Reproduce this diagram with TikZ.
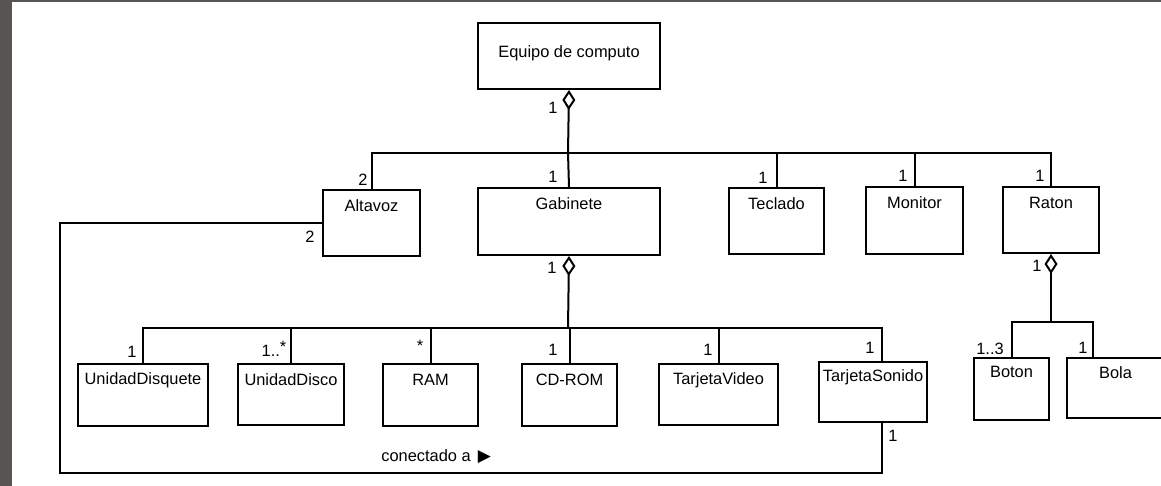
\documentclass[tikz,border=0pt]{standalone}
\usepackage{fontspec}
\setmainfont{Liberation Sans}
\newfontfamily\symfont{DejaVu Sans}
\usetikzlibrary{arrows.meta,calc}
\definecolor{bggray}{HTML}{585453}
\begin{document}
\begin{tikzpicture}[x=0.5pt,y=-0.5pt,
  font=\fontsize{8.2}{9.5}\selectfont,
  cls/.style 2 args={draw, line width=1pt, inner sep=0pt, anchor=north west,
    minimum width=#1*0.5pt, minimum height=#2*0.5pt},
  txt/.style={inner sep=0pt},
  mult/.style={inner sep=0pt},
  ln/.style={line width=1pt},
  agg/.style={{Diamond[open,length=10pt,width=6.5pt]}-}]
\useasboundingbox (0,0) rectangle (1161,486);
\fill[bggray] (0,0) rectangle (1161,486);
\fill[white] (12,2) rectangle (1161,486);

% boxes
\node[cls={182}{66}] (eq)   at (477,22)  {};
\node[cls={97}{66}]  (alt)  at (322,189) {};
\node[cls={182}{67}] (gab)  at (477,187) {};
\node[cls={95}{66}]  (tec)  at (728,187) {};
\node[cls={97}{67}]  (mon)  at (865,186) {};
\node[cls={96}{66}]  (rat)  at (1002,186) {};
\node[cls={130}{62}] (ud)   at (77,363)  {};
\node[cls={106}{61}] (udc)  at (237,363) {};
\node[cls={95}{62}]  (ram)  at (382,363) {};
\node[cls={95}{62}]  (cd)   at (521,363) {};
\node[cls={119}{61}] (tv)   at (658,363) {};
\node[cls={108}{60}] (ts)   at (818,361) {};
\node[cls={75}{62}]  (bot)  at (973,357) {};
\node[cls={97}{60}]  (bola) at (1066,357) {};

% box texts
\node[txt] (eqt)   at ($(eq.center)+(0,-3)$) {Equipo de computo};
\node[txt] (altt)  at ($(alt.north)+(0,17)$) {Altavoz};
\node[txt] (gabt)  at ($(gab.north)+(0,17)$) {Gabinete};
\node[txt] (tect)  at ($(tec.north)+(0,17)$) {Teclado};
\node[txt] (mont)  at ($(mon.north)+(0,17)$) {Monitor};
\node[txt] (ratt)  at ($(rat.north)+(0,17)$) {Raton};
\node[txt] (udt)   at ($(ud.north)+(0,17)$)  {UnidadDisquete};
\node[txt] (udct)  at ($(udc.north)+(0,17)$) {UnidadDisco};
\node[txt] (ramt)  at ($(ram.north)+(0,17)$) {RAM};
\node[txt] (cdt)   at ($(cd.north)+(0,17)$)  {CD-ROM};
\node[txt] (tvt)   at ($(tv.north)+(0,17)$)  {TarjetaVideo};
\node[txt] (tst)   at ($(ts.north)+(0,16)$)  {TarjetaSonido};
\node[txt] (bott)  at ($(bot.north)+(0,15)$) {Boton};
\node[txt] (bolat) at ($(bola.north)+(0,16)$) {Bola};

% junction points
\coordinate (b1) at (568,153);
\coordinate (b2) at (568,328);
\coordinate (b3) at (1051,322);
\coordinate (tsx) at (882,0);
\coordinate (bolx) at (1093,0);
\coordinate (lc) at (60,473);

% top tree
\draw[ln,agg] (eq.south) -- (b1);
\draw[ln] (alt.north) |- (b1) -| (rat.north);
\draw[ln] (gab.north) -- (b1);
\draw[ln] (tec.north) -- (tec.north |- b1);
\draw[ln] (mon.north) -- (mon.north |- b1);

% gabinete tree
\draw[ln,agg] (gab.south) -- (b2);
\draw[ln] (ud.north) |- (b2) -| (ts.north -| tsx);
\draw[ln] (udc.north) -- (udc.north |- b2);
\draw[ln] (ram.north) -- (ram.north |- b2);
\draw[ln] (cd.north) -- (cd.north |- b2);
\draw[ln] (tv.north) -- (tv.north |- b2);

% raton tree
\draw[ln,agg] (rat.south) -- (b3);
\draw[ln] (bot.north) |- (b3) -| (bola.north -| bolx);

% association
\draw[ln] (alt.west) -| (lc) -| (ts.south -| tsx);
\node[txt,anchor=west] (con) at (381,457) {conectado a\hspace{3.5pt}{\symfont\fontsize{8.5}{9}\selectfont ▶}};

% multiplicities
\node[mult] (m1)  at (553,108) {1};
\node[mult] (m2)  at (363,180) {2};
\node[mult] (m3)  at (553,177) {1};
\node[mult] (m4)  at (763,178) {1};
\node[mult] (m5)  at (903,176) {1};
\node[mult] (m6)  at (1040,176) {1};
\node[mult] (m7)  at (310,237) {2};
\node[mult] (m8)  at (552,268) {1};
\node[mult] (m9)  at (132,352) {1};
\node[mult] (m10) at (274,349) {1..\raisebox{2pt}{*}};
\node[mult] (m11) at (420,346) {*};
\node[mult] (m12) at (553,350) {1};
\node[mult] (m13) at (708,350) {1};
\node[mult] (m14) at (870,348) {1};
\node[mult] (m15) at (893,436) {1};
\node[mult] (m16) at (1037,266) {1};
\node[mult] (m17) at (990,349) {1..3};
\node[mult] (m18) at (1083,348) {1};
\end{tikzpicture}
\end{document}
